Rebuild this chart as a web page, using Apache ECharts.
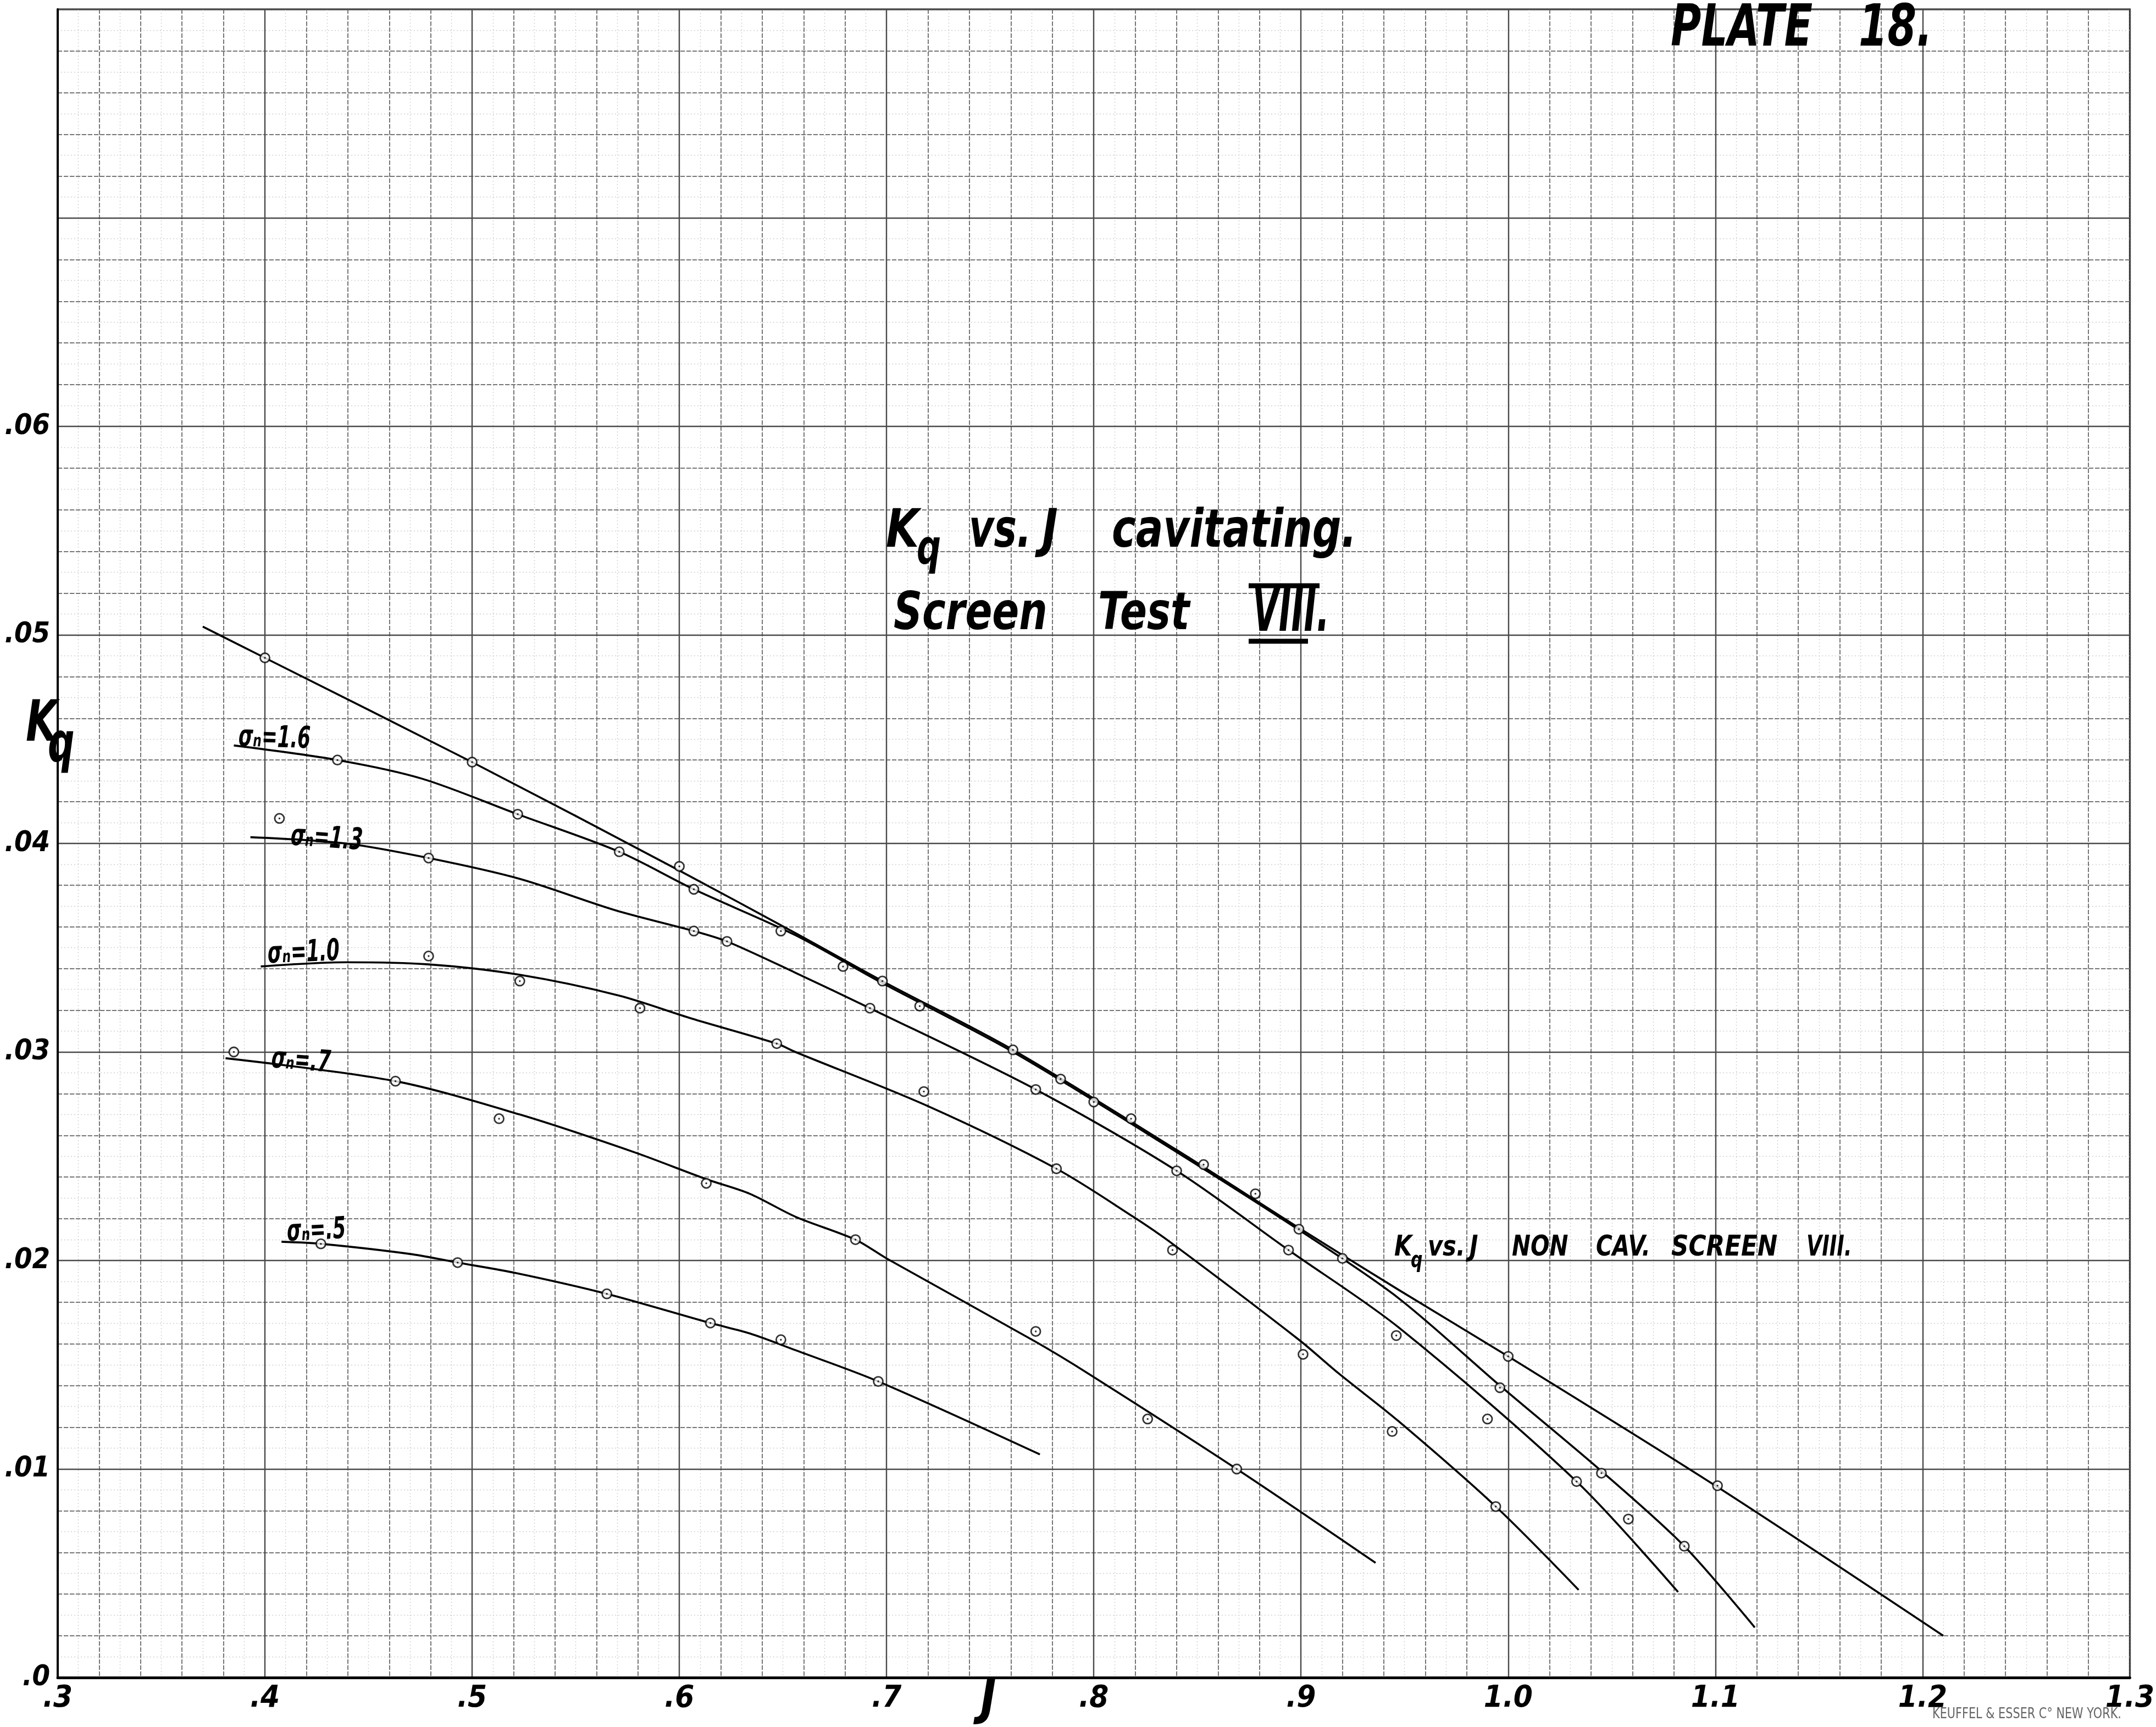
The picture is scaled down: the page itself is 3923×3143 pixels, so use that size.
<!DOCTYPE html>
<html>
<head>
<meta charset="utf-8">
<title>Plate 18 - Kq vs. J cavitating, Screen Test VIII</title>
<script src="https://cdn.jsdelivr.net/npm/echarts@6/dist/echarts.min.js"></script>
<style>
  html, body { margin: 0; padding: 0; background: #fff; }
  #plate { width: 3923px; height: 3143px; }
</style>
</head>
<body>
<div id="plate"></div>
<script>
// tick labels (one per tick, counted from min)
const xTickText = ['.3', '.4', '.5', '.6', '.7', '.8', '.9', '1.0', '1.1', '1.2', '1.3']
const yTickText = ['.0', '.01', '.02', '.03', '.04', '.05', '.06', '', '']

// faired curves, [J, Kq]
const nonCavLine = [[0.370, 0.0504], [0.40, 0.0489], [0.50, 0.0439], [0.60, 0.0387], [0.656, 0.0357], [0.698, 0.0334], [0.761, 0.0301], [0.84, 0.0253], [0.90, 0.0215], [0.947, 0.0186], [1.0, 0.0154], [1.10, 0.0092], [1.210, 0.0020]]
const sigma16Line = [[0.385, 0.0447], [0.435, 0.0440], [0.476, 0.0431], [0.522, 0.0414], [0.571, 0.0396], [0.607, 0.0378], [0.656, 0.0356], [0.698, 0.0333], [0.761, 0.0300], [0.84, 0.0252], [0.90, 0.0214], [0.947, 0.0182], [0.996, 0.0140], [1.045, 0.0099], [1.085, 0.0063], [1.119, 0.0024]]
const sigma13Line = [[0.393, 0.0403], [0.439, 0.0400], [0.479, 0.0393], [0.523, 0.0383], [0.569, 0.0368], [0.607, 0.0358], [0.623, 0.0353], [0.656, 0.0338], [0.692, 0.0321], [0.772, 0.0282], [0.840, 0.0243], [0.894, 0.0205], [0.947, 0.0168], [1.033, 0.0094], [1.082, 0.0041]]
const sigma10Line = [[0.398, 0.0341], [0.439, 0.0343], [0.479, 0.0342], [0.523, 0.0337], [0.571, 0.0327], [0.606, 0.0316], [0.647, 0.0304], [0.656, 0.0300], [0.72, 0.0274], [0.782, 0.0244], [0.819, 0.0221], [0.838, 0.0208], [0.899, 0.0162], [0.918, 0.0146], [0.947, 0.0123], [0.994, 0.0082], [1.034, 0.0042]]
const sigma07Line = [[0.381, 0.0297], [0.463, 0.0286], [0.523, 0.0270], [0.578, 0.0252], [0.613, 0.0239], [0.634, 0.0232], [0.656, 0.0221], [0.685, 0.0210], [0.700, 0.0201], [0.772, 0.0161], [0.797, 0.0146], [0.869, 0.0100], [0.936, 0.0055]]
const sigma05Line = [[0.408, 0.0209], [0.427, 0.0208], [0.471, 0.0203], [0.493, 0.0199], [0.521, 0.0194], [0.565, 0.0184], [0.615, 0.0170], [0.634, 0.0165], [0.656, 0.0157], [0.696, 0.0142], [0.774, 0.0107]]

// test points, [J, Kq]
const nonCavPts = [[0.40, 0.0489], [0.50, 0.0439], [0.600, 0.0389], [0.649, 0.0358], [0.679, 0.0341], [0.698, 0.0334], [0.716, 0.0322], [0.761, 0.0301], [0.784, 0.0287], [0.800, 0.0276], [0.818, 0.0268], [0.853, 0.0246], [0.878, 0.0232], [0.899, 0.0215], [0.920, 0.0201], [1.000, 0.0154], [1.101, 0.0092]]
const sigma16Pts = [[0.435, 0.0440], [0.522, 0.0414], [0.571, 0.0396], [0.607, 0.0378], [0.996, 0.0139], [1.045, 0.0098], [1.085, 0.0063]]
const sigma13Pts = [[0.407, 0.0412], [0.479, 0.0393], [0.607, 0.0358], [0.623, 0.0353], [0.692, 0.0321], [0.772, 0.0282], [0.840, 0.0243], [0.894, 0.0205], [0.946, 0.0164], [0.990, 0.0124], [1.033, 0.0094], [1.058, 0.0076]]
const sigma10Pts = [[0.479, 0.0346], [0.523, 0.0334], [0.581, 0.0321], [0.647, 0.0304], [0.718, 0.0281], [0.782, 0.0244], [0.838, 0.0205], [0.901, 0.0155], [0.944, 0.0118], [0.994, 0.0082]]
const sigma07Pts = [[0.385, 0.0300], [0.463, 0.0286], [0.513, 0.0268], [0.613, 0.0237], [0.685, 0.0210], [0.772, 0.0166], [0.826, 0.0124], [0.869, 0.0100]]
const sigma05Pts = [[0.427, 0.0208], [0.493, 0.0199], [0.565, 0.0184], [0.615, 0.0170], [0.649, 0.0162], [0.696, 0.0142]]

const curves = [
  { name: 'non cav', line: nonCavLine, pts: nonCavPts },
  { name: 'sigma 1.6', line: sigma16Line, pts: sigma16Pts },
  { name: 'sigma 1.3', line: sigma13Line, pts: sigma13Pts },
  { name: 'sigma 1.0', line: sigma10Line, pts: sigma10Pts },
  { name: 'sigma .7', line: sigma07Line, pts: sigma07Pts },
  { name: 'sigma .5', line: sigma05Line, pts: sigma05Pts }
]

const FONT = "'DejaVu Sans', sans-serif"
const NARROW = "'Liberation Sans Narrow', 'DejaVu Sans Condensed', 'DejaVu Sans', sans-serif"

// lettering helper: left aligned, y is the middle of the capitals
function txt(text, x, y, size, o) {
  o = o || {}
  return {
    type: 'text',
    x: x,
    y: y,
    rotation: o.rot || 0,
    scaleX: o.sx || 0.75,
    z: 20,
    style: {
      text: text,
      fill: o.color || '#000',
      font: (o.style || 'italic') + ' ' + (o.weight || 'bold') + ' ' + size + 'px ' + FONT,
      align: 'left',
      verticalAlign: 'middle',
      textAlign: 'left',
      textVerticalAlign: 'middle'
    }
  }
}

function bar(x1, x2, y, w) {
  return { type: 'line', z: 20, shape: { x1: x1, y1: y, x2: x2, y2: y }, style: { stroke: '#000', lineWidth: w } }
}

function gridAxis(min, max, interval, z, split) {
  return {
    type: 'value',
    min: min,
    max: max,
    interval: interval,
    z: z,
    axisLine: { show: false },
    axisTick: { show: false },
    axisLabel: { show: false },
    splitLine: { show: true, lineStyle: split }
  }
}

const minorLine = { color: '#cfcfcf', width: 1.4, type: [2, 4] }
const midLine = { color: '#777', width: 2, type: [8, 3] }
const majorLine = { color: '#4a4a4a', width: 2.4, type: 'solid' }

const series = []
curves.forEach(function (c) {
  series.push({
    name: c.name,
    type: 'line',
    data: c.line,
    smooth: 0.3,
    showSymbol: false,
    z: 5,
    lineStyle: { color: '#000', width: 3.6 }
  })
  series.push({
    name: c.name + ' pts',
    type: 'scatter',
    data: c.pts,
    symbol: 'circle',
    symbolSize: 17,
    z: 6,
    itemStyle: { color: '#fff', borderColor: '#000', borderWidth: 2.8 }
  })
  series.push({
    name: c.name + ' dot',
    type: 'scatter',
    data: c.pts,
    symbol: 'circle',
    symbolSize: 3.5,
    z: 7,
    itemStyle: { color: '#000' }
  })
})

const chart = echarts.init(document.getElementById('plate'), null, { renderer: 'canvas' })

chart.setOption({
  animation: false,
  backgroundColor: '#fff',
  grid: {
    left: 105,
    right: 38,
    top: 17,
    bottom: 90,
    show: true,
    backgroundColor: '#fff',
    borderColor: '#111',
    borderWidth: 3
  },
  xAxis: [
    {
      type: 'value',
      min: 0.3,
      max: 1.3,
      interval: 0.1,
      z: 3,
      axisLine: { show: true, onZero: false, lineStyle: { color: '#000', width: 5 } },
      axisTick: { show: false },
      axisLabel: {
        formatter: function (v, i) { return xTickText[i] },
        margin: 10,
        fontSize: 56,
        fontStyle: 'italic',
        fontWeight: 'bold',
        fontFamily: NARROW,
        color: '#000'
      },
      splitLine: { show: true, lineStyle: majorLine }
    },
    gridAxis(0.3, 1.3, 0.02, 2, midLine),
    gridAxis(0.3, 1.3, 0.01, 1, minorLine)
  ],
  yAxis: [
    {
      type: 'value',
      min: 0,
      max: 0.08,
      interval: 0.01,
      z: 3,
      axisLine: { show: true, onZero: false, lineStyle: { color: '#000', width: 4 } },
      axisTick: { show: false },
      axisLabel: {
        formatter: function (v, i) { return yTickText[i] },
        margin: 14,
        fontSize: 52,
        fontStyle: 'italic',
        fontWeight: 'bold',
        fontFamily: NARROW,
        color: '#000'
      },
      splitLine: { show: true, lineStyle: majorLine }
    },
    gridAxis(0, 0.08, 0.002, 2, midLine),
    gridAxis(0, 0.08, 0.001, 1, minorLine)
  ],
  series: series,
  graphic: [
    // plate number
    txt('PLATE', 3040, 56, 105, { sx: 0.72 }),
    txt('18.', 3382, 56, 105, { sx: 0.72 }),

    // title
    txt('K', 1612, 970, 97, { sx: 0.8 }),
    txt('q', 1668, 1003, 88, { sx: 0.7 }),
    txt('vs.', 1763, 970, 97, { sx: 0.72 }),
    txt('J', 1896, 970, 97, { sx: 0.8 }),
    txt('cavitating.', 2023, 970, 97, { sx: 0.76 }),
    txt('Screen', 1626, 1120, 95, { sx: 0.76 }),
    txt('Test', 1998, 1120, 95, { sx: 0.76 }),
    txt('VIII.', 2279, 1119, 110, { sx: 0.56 }),
    bar(2272, 2401, 1066, 9),
    bar(2272, 2380, 1167, 9),

    // non cavitating curve label
    txt('K', 2537, 2271, 52, { sx: 0.8 }),
    txt('q', 2567, 2296, 40, { sx: 0.75 }),
    txt('vs.', 2598, 2271, 52, { sx: 0.8 }),
    txt('J', 2674, 2271, 52, { sx: 0.8 }),
    txt('NON', 2751, 2271, 52, { sx: 0.78 }),
    txt('CAV.', 2904, 2271, 52, { sx: 0.78 }),
    txt('SCREEN', 3041, 2271, 52, { sx: 0.84 }),
    txt('VIII.', 3287, 2271, 52, { sx: 0.7 }),

    // cavitation number labels
    txt('σₙ=1.6', 434, 1343, 55, { sx: 0.62, rot: -0.03 }),
    txt('σₙ=1.3', 529, 1523, 55, { sx: 0.62, rot: -0.07 }),
    txt('σₙ=1.0', 487, 1738, 55, { sx: 0.62, rot: 0.04 }),
    txt('σₙ=.7', 494, 1928, 55, { sx: 0.62, rot: -0.08 }),
    txt('σₙ=.5', 522, 2244, 55, { sx: 0.62, rot: 0.05 }),

    // axis names
    txt('K', 47, 1321, 103, { sx: 0.72 }),
    txt('q', 87, 1360, 100, { sx: 0.68 }),
    txt('J', 1784, 3095, 92, { sx: 0.85 }),

    // paper maker
    txt('KEUFFEL & ESSER C° NEW YORK.', 3516, 3120, 26, { sx: 0.8, style: 'normal', weight: 'normal', color: '#666' })
  ]
})
</script>
</body>
</html>
